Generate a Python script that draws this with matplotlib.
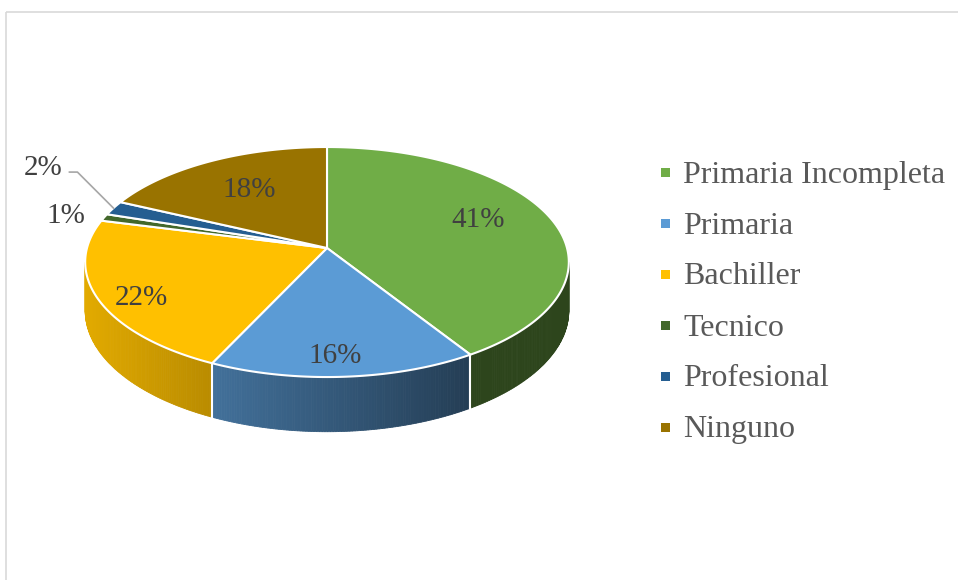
import numpy as np
import matplotlib
matplotlib.use("Agg")
import matplotlib.pyplot as plt
from matplotlib.patches import Polygon, Rectangle
from matplotlib.colors import to_rgb

# ---- data ----
categories = ["Primaria Incompleta", "Primaria", "Bachiller", "Tecnico", "Profesional", "Ninguno"]
values = [41, 16, 22, 1, 2, 18]
labels = ["41%", "16%", "22%", "1%", "2%", "18%"]
colors = ["#70ad47", "#5b9bd5", "#ffc000", "#43682b", "#255e91", "#997300"]

# ---- geometry / style ----
W, H = 958, 580
CX, CY = 327, 248
RX, RY = 240, 113.3
A = 0.122          # perspective factor
DEPTH = 48
label_r = [0.68, 0.85, 0.83, 1.2, 1.0, 0.7]
label_off = [(-2, -7), (-6, 1), (3, 8), (5, 4), (0, 0), (6, 4)]
serif = ["Liberation Serif", "DejaVu Serif"]

fig = plt.figure(figsize=(W / 100, H / 100), dpi=100)
ax = fig.add_axes([0, 0, 1, 1])
ax.set_xlim(0, W)
ax.set_ylim(H, 0)
ax.axis("off")

# chart border
ax.add_patch(Rectangle((6.5, 11.5), W + 20, H + 20, fill=False, edgecolor="#d9d9d9", lw=1.2))


def proj(r, th):
    u = r * np.sin(th)
    v = r * np.cos(th)
    s = 1.0 / (1.0 + A * v)
    return CX + RX * u * s, CY - RY * v * s, s


def shade(x):
    return float(np.clip(0.885 - (x - 86) * 0.00127, 0.40, 0.92))


fracs = np.array(values, dtype=float) / sum(values)
bounds = np.concatenate([[0], np.cumsum(fracs)]) * 2 * np.pi

# visible side range
th_lo = np.arccos(-A)
th_hi = 2 * np.pi - th_lo

# ---- side walls ----
for i, col in enumerate(colors):
    t0, t1 = max(bounds[i], th_lo), min(bounds[i + 1], th_hi)
    if t1 <= t0:
        continue
    n = max(2, int((t1 - t0) / 0.01))
    ts = np.linspace(t0, t1, n + 1)
    base = np.array(to_rgb(col))
    for a0, a1 in zip(ts[:-1], ts[1:]):
        x0, y0, s0 = proj(1, a0)
        x1, y1, s1 = proj(1, a1)
        c = tuple(base * shade((x0 + x1) / 2))
        ax.add_patch(Polygon([(x0, y0), (x1, y1), (x1, y1 + DEPTH * s1), (x0, y0 + DEPTH * s0)],
                             closed=True, facecolor=c, edgecolor=c, lw=0.6))
# white separators on side
for b in bounds[1:-1]:
    if th_lo < b < th_hi:
        x0, y0, s0 = proj(1, b)
        ax.plot([x0, x0], [y0, y0 + DEPTH * s0], color="white", lw=1.5)

# ---- top face ----
for i, col in enumerate(colors):
    ts = np.linspace(bounds[i], bounds[i + 1], max(3, int((bounds[i + 1] - bounds[i]) / 0.01)))
    pts = [(CX, CY)] + [proj(1, t)[:2] for t in ts]
    ax.add_patch(Polygon(pts, closed=True, facecolor=col, edgecolor="white", lw=1.5, joinstyle="round"))

# ---- data labels ----
for i, lab in enumerate(labels):
    mid = (bounds[i] + bounds[i + 1]) / 2
    x, y, _ = proj(label_r[i], mid)
    dx, dy = label_off[i]
    if lab == "2%":
        pts = [(x, y), (x - 36, y - 36), (x - 44, y - 36)]
        ax.plot([p[0] for p in pts], [p[1] for p in pts], color="#a6a6a6", lw=1.2)
        ax.text(x - 70, y - 40, lab, ha="center", va="center", fontsize=21,
                color="#404040", family=serif)
    else:
        ax.text(x + dx, y + dy, lab, ha="center", va="center", fontsize=21,
                color="#404040", family=serif)

# ---- legend ----
LX, LY0, LDY = 661, 172, 51
for i, (cat, col) in enumerate(zip(categories, colors)):
    y = LY0 + i * LDY
    ax.add_patch(Rectangle((LX, y - 4.5), 9, 9, facecolor=col, edgecolor="none"))
    ax.text(LX + 22, y + 3, cat, ha="left", va="center", fontsize=23, color="#595959", family=serif)

fig.savefig("out.png", dpi=100)
